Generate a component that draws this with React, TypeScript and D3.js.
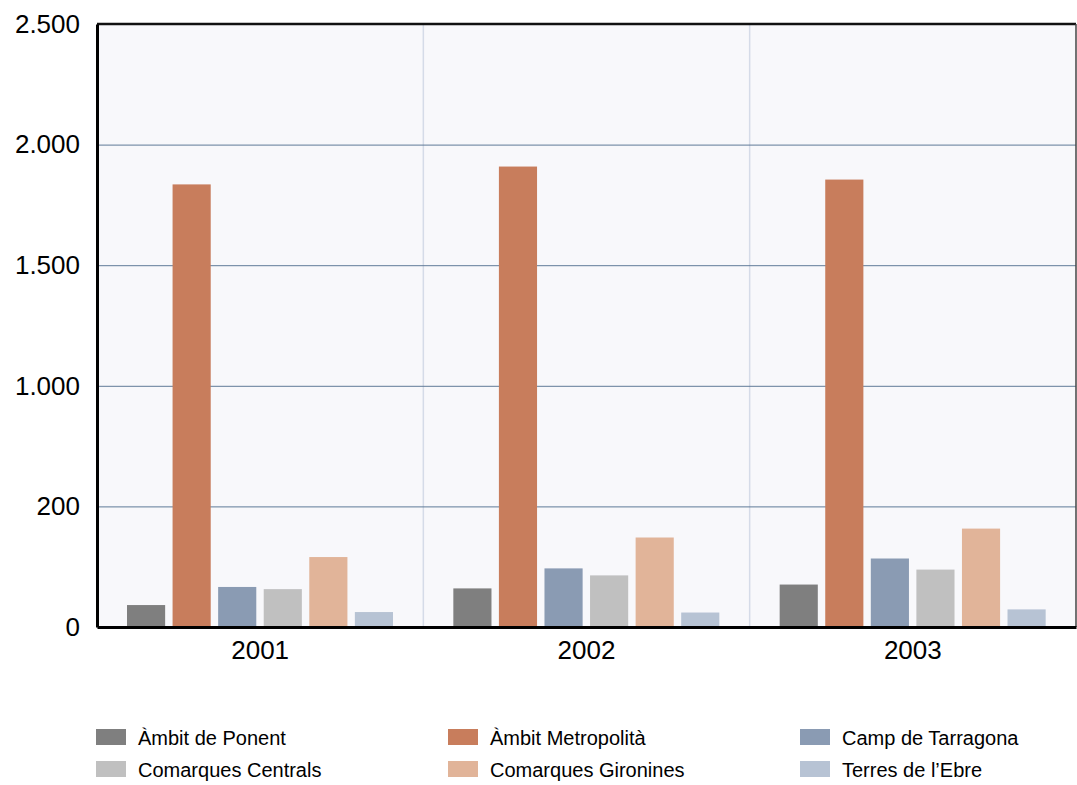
import * as d3 from "d3";
import React, { useEffect, useRef } from "react";

const years = ["2001", "2002", "2003"];
const series = [
  "Àmbit de Ponent",
  "Àmbit Metropolità",
  "Camp de Tarragona",
  "Comarques Centrals",
  "Comarques Gironines",
  "Terres de l’Ebre",
];
const ponent = [91, 160, 176];
const metropolita = [1835, 1909, 1855];
const tarragona = [166, 243, 284];
const centrals = [157, 214, 238];
const gironines = [290, 371, 408];
const ebre = [62, 60, 73];
const yTicks = [0, 500, 1000, 1500, 2000, 2500];
const yTickLabels = ["0", "200", "1.000", "1.500", "2.000", "2.500"];

const colors = ["#7f7f7f", "#c87d5c", "#8a9bb3", "#c0c0c0", "#e1b499", "#b7c3d4"];

const App = () => {
  const ref = useRef(null);

  useEffect(() => {
    const values = [ponent, metropolita, tarragona, centrals, gironines, ebre];
    const width = 1077;
    const height = 785;
    const margin = { top: 24, right: 1, bottom: 158, left: 97 };
    const innerW = width - margin.left - margin.right;
    const innerH = height - margin.top - margin.bottom;
    const font = "'Liberation Sans', Arial, Helvetica, sans-serif";

    d3.select(ref.current).selectAll("*").remove();

    const svg = d3
      .select(ref.current)
      .append("svg")
      .attr("width", width)
      .attr("height", height)
      .style("position", "absolute")
      .style("left", 0)
      .style("top", 0);

    const g = svg.append("g").attr("transform", `translate(${margin.left},${margin.top})`);

    const x0 = d3.scaleBand().domain(years).range([0, innerW]);
    const x1 = d3.scaleBand().domain(series).range([30, 296]).paddingInner(0.163);
    const y = d3.scaleLinear().domain([0, 2500]).range([innerH, 0]);

    // plot background
    g.append("rect").attr("width", innerW).attr("height", innerH).attr("fill", "#f8f8fb");

    // vertical dividers between groups
    g.selectAll(".vdiv")
      .data(years.slice(1))
      .enter()
      .append("line")
      .attr("x1", (d) => x0(d))
      .attr("x2", (d) => x0(d))
      .attr("y1", 0)
      .attr("y2", innerH)
      .attr("stroke", "#d5dbe8")
      .attr("stroke-width", 1.5);

    // horizontal gridlines
    g.append("g")
      .call(d3.axisLeft(y).tickValues(yTicks.slice(1, -1)).tickSize(-innerW).tickFormat(() => ""))
      .call((s) => s.select(".domain").remove())
      .selectAll(".tick line")
      .attr("stroke", "#5f7a98")
      .attr("stroke-width", 1);

    // bars
    const groups = g
      .selectAll(".grp")
      .data(years)
      .enter()
      .append("g")
      .attr("transform", (d) => `translate(${x0(d)},0)`);

    groups
      .selectAll("rect")
      .data((d, i) => series.map((s, j) => ({ s, j, v: values[j][i] })))
      .enter()
      .append("rect")
      .attr("x", (d) => x1(d.s))
      .attr("width", x1.bandwidth())
      .attr("y", (d) => y(d.v))
      .attr("height", (d) => innerH - y(d.v))
      .attr("fill", (d) => colors[d.j]);

    // frame
    g.append("line").attr("x1", 0).attr("x2", innerW).attr("y1", 0).attr("y2", 0)
      .attr("stroke", "#111").attr("stroke-width", 2.5);
    g.append("line").attr("x1", innerW).attr("x2", innerW).attr("y1", 0).attr("y2", innerH)
      .attr("stroke", "#444").attr("stroke-width", 1.5);

    // y axis
    const yAxis = g
      .append("g")
      .call(
        d3
          .axisLeft(y)
          .tickValues(yTicks)
          .tickSize(0)
          .tickPadding(17)
          .tickFormat((d, i) => yTickLabels[i])
      );
    yAxis.select(".domain").attr("stroke", "#000").attr("stroke-width", 3);
    yAxis.selectAll(".tick text").attr("font-family", font).attr("font-size", 26).attr("fill", "#000");

    // x axis
    const xAxis = g
      .append("g")
      .attr("transform", `translate(0,${innerH})`)
      .call(d3.axisBottom(x0).tickSize(0).tickSizeOuter(0).tickPadding(14));
    xAxis.select(".domain").attr("stroke", "#000").attr("stroke-width", 3);
    xAxis.selectAll(".tick text").attr("font-family", font).attr("font-size", 26).attr("fill", "#000");

    // legend
    const legend = svg
      .selectAll(".leg")
      .data(series)
      .enter()
      .append("g")
      .attr("transform", (d, i) => `translate(${96 + (i % 3) * 352},${729 + Math.floor(i / 3) * 32})`);
    legend.append("rect").attr("width", 30).attr("height", 16).attr("fill", (d, i) => colors[i]);
    legend
      .append("text")
      .attr("x", 42)
      .attr("y", 9)
      .attr("dy", "0.35em")
      .attr("font-family", font)
      .attr("font-size", 20)
      .attr("fill", "#000")
      .text((d) => d);
  }, []);

  return <div ref={ref} />;
};

export default App;
